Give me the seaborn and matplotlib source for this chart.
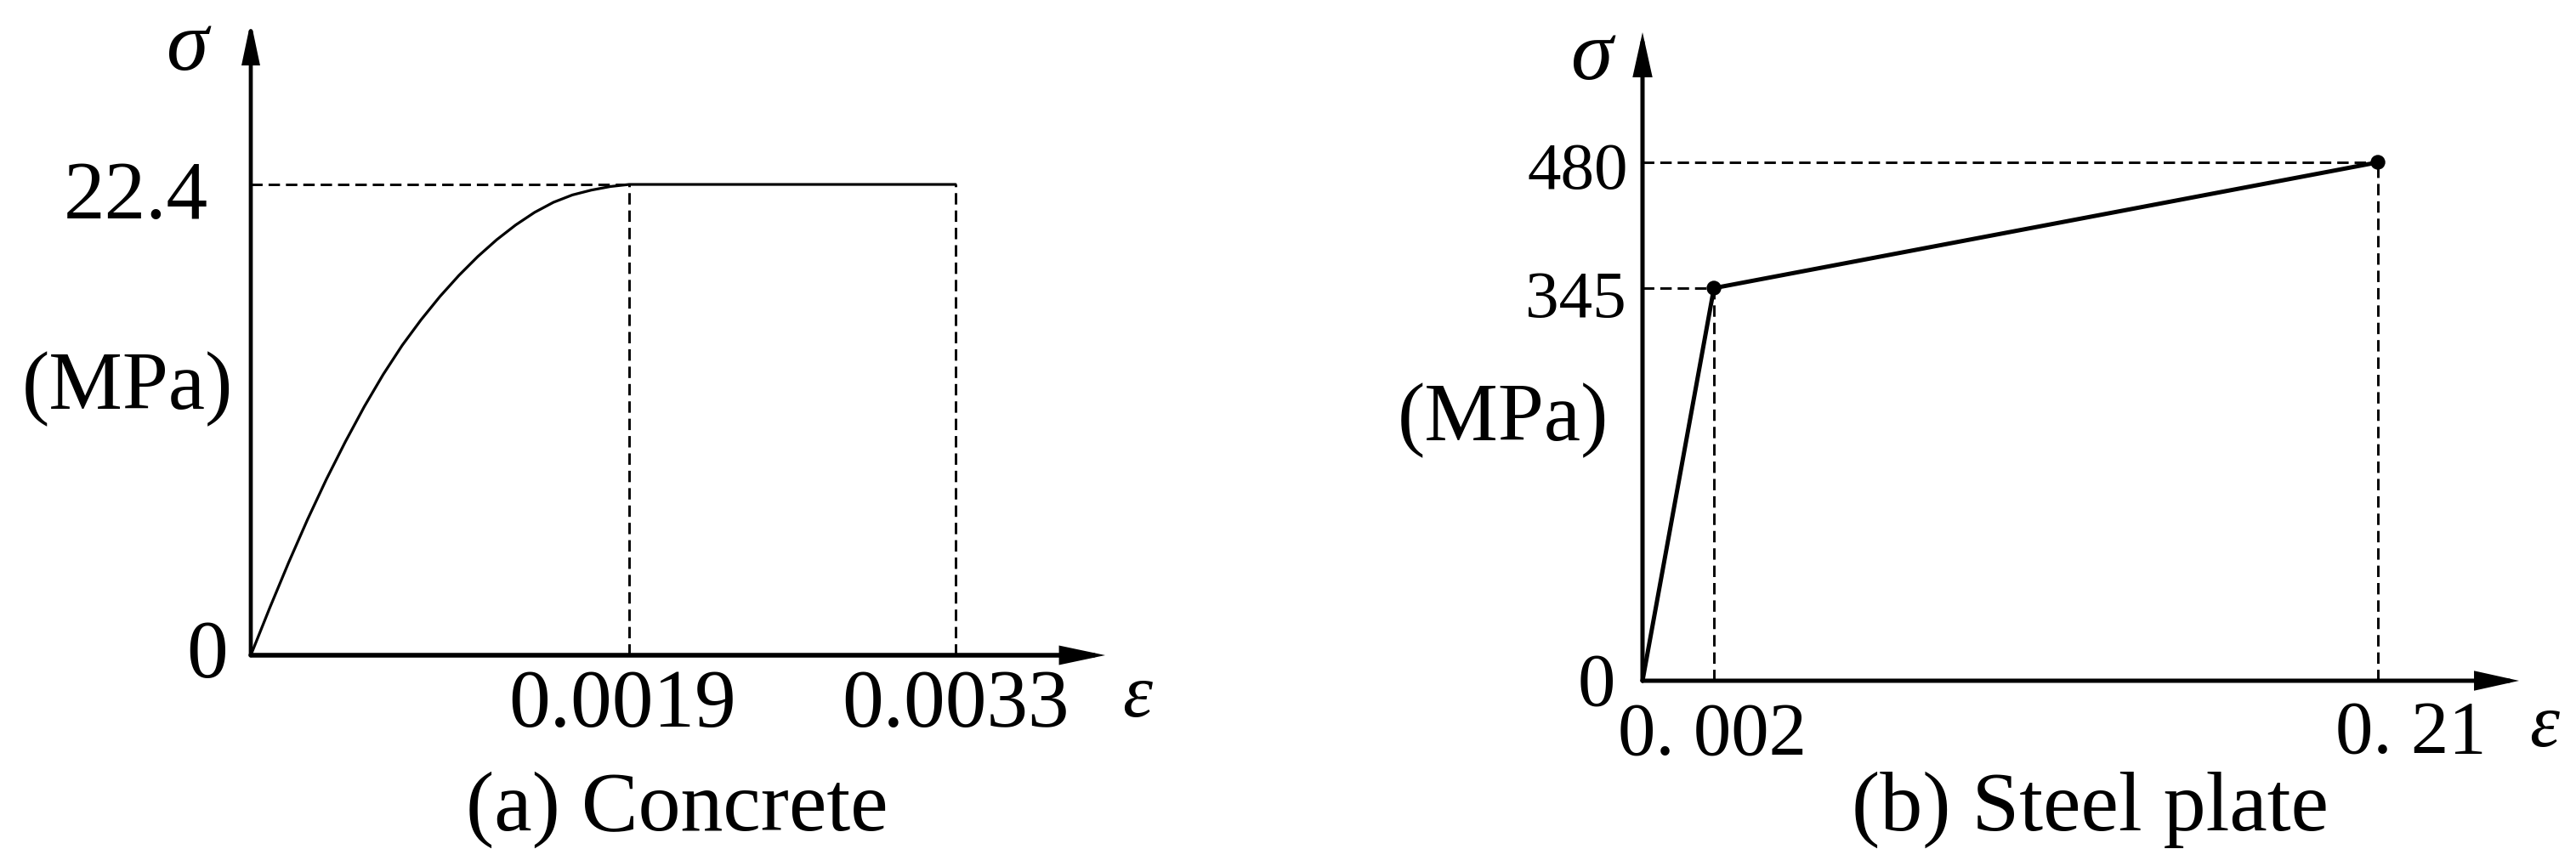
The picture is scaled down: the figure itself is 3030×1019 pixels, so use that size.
import numpy as np
import matplotlib
matplotlib.use("Agg")
import matplotlib.pyplot as plt
import seaborn as sns

# ---------------- data ----------------
# (a) concrete stress-strain curve
concrete_eps = [0, 0.000095, 0.00019, 0.000285, 0.00038, 0.000475, 0.00057, 0.000665,
                0.00076, 0.000855, 0.00095, 0.001045, 0.00114, 0.001235, 0.00133,
                0.001425, 0.00152, 0.001615, 0.00171, 0.001805, 0.0019, 0.0033]
concrete_sigma = [0, 2.25, 4.41, 6.46, 8.38, 10.16, 11.83, 13.36, 14.74, 15.96, 17.07,
                  18.07, 18.97, 19.77, 20.47, 21.07, 21.55, 21.90, 22.13, 22.30, 22.40, 22.40]
concrete_peak_eps = 0.0019
concrete_ult_eps = 0.0033
concrete_peak_sigma = 22.4
concrete_xticklabels = ["0.0019", "0.0033"]
concrete_yticklabels = ["22.4"]

# (b) steel plate bilinear model
steel_eps = [0, 0.002, 0.21]
steel_sigma = [0, 345, 480]
steel_xticklabels = ["0. 002", "0. 21"]
steel_yticklabels = ["345", "480"]

# ---------------- layout (schematic, not-to-scale axes) ----------------
W, H, DPI = 3030, 1020, 100
PT = 72.0 / DPI  # points per pixel

sns.set_theme(style="white")
plt.rcParams['font.family'] = ['Liberation Serif', 'DejaVu Serif']
plt.rcParams['text.color'] = 'black'

fig = plt.figure(figsize=(W / DPI, H / DPI), dpi=DPI)


def make_axes(ox, oy, xtip, ytip):
    return fig.add_axes([ox / W, 1 - oy / H, (xtip - ox) / W, (oy - ytip) / H])


def schematic_scale(ax, axis, data_anchor, frac_anchor):
    d = np.asarray(data_anchor, float)
    f = np.asarray(frac_anchor, float)
    fwd = lambda v: np.interp(v, d, f)
    inv = lambda v: np.interp(v, f, d)
    if axis == "x":
        ax.set_xscale("function", functions=(fwd, inv))
        ax.set_xlim(d[0], d[-1])
    else:
        ax.set_yscale("function", functions=(fwd, inv))
        ax.set_ylim(d[0], d[-1])


def axis_arrows(ax, lw_x, lw_y, hl, hw):
    for tip, lw in [((1, 0), lw_x), ((0, 1), lw_y)]:
        style = f"-|>,head_length={hl},head_width={hw}"
        ax.annotate("", xy=tip, xytext=(0, 0), xycoords="axes fraction",
                    textcoords="axes fraction",
                    arrowprops=dict(arrowstyle=style, lw=lw, color="black",
                                    fc="black", shrinkA=0, shrinkB=0,
                                    mutation_scale=10, joinstyle="miter"),
                    annotation_clip=False, zorder=5)


def label(ax, s, xy, dxy_px, coords="data", ha="center", size=70, style="normal"):
    ax.annotate(s, xy=xy, xycoords=coords, color="black",
                xytext=(dxy_px[0] * PT, dxy_px[1] * PT), textcoords="offset points",
                ha=ha, va="baseline", fontsize=size, fontstyle=style,
                annotation_clip=False)


DASH = dict(color="black", lw=2.1, dashes=(4.6, 2.4), clip_on=False, zorder=2)

# ---------------- (a) Concrete ----------------
axA = make_axes(295, 772, 1300, 26)
axA.axis("off")
sns.lineplot(x=concrete_eps, y=concrete_sigma, ax=axA, color="black", lw=2.3,
             sort=False, estimator=None, clip_on=False, zorder=3)
schematic_scale(axA, "x", [0, concrete_peak_eps, concrete_ult_eps, 0.0040],
                [0, 0.4428, 0.8249, 1.0])
schematic_scale(axA, "y", [0, concrete_peak_sigma, 30.0], [0, 0.7426, 1.0])
axA.plot([0, concrete_peak_eps], [concrete_peak_sigma] * 2, **DASH)
for e in [concrete_peak_eps, concrete_ult_eps]:
    axA.plot([e, e], [0, concrete_peak_sigma], **DASH)
axis_arrows(axA, lw_x=4.0, lw_y=3.4, hl=2.75, hw=0.58)

label(axA, concrete_xticklabels[0], (concrete_peak_eps, 0), (-8, -83), size=70)
label(axA, concrete_xticklabels[1], (concrete_ult_eps, 0), (0, -83), size=70)
label(axA, concrete_yticklabels[0], (0, concrete_peak_sigma), (-50, -39), ha="right", size=70)
label(axA, "0", (0, 0), (-27, -25), ha="right", size=70)
label(axA, "σ", (0, 1), (-75, -56), coords="axes fraction", size=72, style="italic")
label(axA, "ε", (1, 0), (20, -71), coords="axes fraction", ha="left", size=64, style="italic")
fig.text(150 / W, 1 - 481 / H, "(MPa)", ha="center", va="baseline", fontsize=70, color="black")
fig.text(796 / W, 1 - 977 / H, "(a) Concrete", ha="center", va="baseline", fontsize=72, color="black")

# ---------------- (b) Steel plate ----------------
axB = make_axes(1932, 802, 2963, 39)
axB.axis("off")
sns.lineplot(x=steel_eps, y=steel_sigma, ax=axB, color="black", lw=3.6,
             sort=False, estimator=None, clip_on=False, zorder=3)
sns.scatterplot(x=steel_eps[1:], y=steel_sigma[1:], ax=axB, color="black",
                s=12.5 ** 2, edgecolor="none", clip_on=False, zorder=4)
schematic_scale(axB, "x", [0, steel_eps[1], steel_eps[2], 0.25],
                [0, 0.0815, 0.839, 1.0])
schematic_scale(axB, "y", [0, steel_sigma[1], steel_sigma[2], 600],
                [0, 0.6055, 0.7995, 1.0])
for e, s in zip(steel_eps[1:], steel_sigma[1:]):
    axB.plot([0, e], [s, s], **DASH)
    axB.plot([e, e], [0, s], **DASH)
axis_arrows(axB, lw_x=3.6, lw_y=3.6, hl=2.8, hw=0.62)

label(axB, steel_xticklabels[0], (steel_eps[1], 0), (-2, -86), size=64)
label(axB, steel_xticklabels[1], (steel_eps[2], 0), (39, -84), size=64)
label(axB, steel_yticklabels[0], (0, steel_sigma[1]), (-19, -33), ha="right", size=57)
label(axB, steel_yticklabels[1], (0, steel_sigma[2]), (-17, -30), ha="right", size=57)
label(axB, "0", (0, 0), (-32, -28), ha="right", size=64)
label(axB, "σ", (0, 1), (-60, -54), coords="axes fraction", size=72, style="italic")
label(axB, "ε", (1, 0), (12, -76), coords="axes fraction", ha="left", size=64, style="italic")
fig.text(1768 / W, 1 - 518 / H, "(MPa)", ha="center", va="baseline", fontsize=70, color="black")
fig.text(2459 / W, 1 - 977 / H, "(b) Steel plate", ha="center", va="baseline", fontsize=72, color="black")

fig.savefig("out.png", dpi=DPI, facecolor="white")
